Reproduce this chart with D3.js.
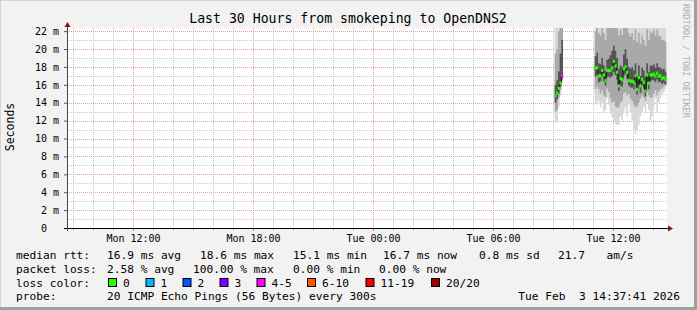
<!DOCTYPE html>
<html>
<head>
<meta charset="utf-8">
<script src="https://d3js.org/d3.v7.min.js"></script>
<style>
  body { margin: 0; background: #f2f2f2; }
  svg text { font-family: "DejaVu Sans Mono", monospace; white-space: pre; }
</style>
</head>
<body>
<svg width="697" height="310"></svg>
<script>
// time window of the graph (30 hours)
var startTime = new Date(2026, 1, 2, 8, 42);
var endTime = new Date(2026, 1, 3, 14, 42);
var stepMinutes = 5;

// first short run of samples
var run1Start = new Date(2026, 1, 3, 9, 5);
var run1Median = [14.8, 15.1, 15.6, 16.2, 17.0];
var run1Loss   = [0, 0, 0, 0, 4];
var run1Min    = [11.8, 11.8, 13.5, 14.8, 16.2];
var run1P10    = [13.0, 13.2, 14.5, 15.4, 16.5];
var run1Q1     = [14.0, 14.4, 15.0, 15.8, 16.7];
var run1Q3     = [16.0, 16.5, 17.5, 19.5, 21.0];
var run1P90    = [19.5, 20.0, 22.0, 23.0, 24.0];
var run1Max    = [24, 24, 24, 24, 24];

// second run
var run2Start = new Date(2026, 1, 3, 11, 5);
var run2Median = [17.9, 17.9, 17.0, 17.0, 17.6, 17.1, 16.5, 17.6, 17.6, 17.6, 17.9, 18.6, 18.1, 17.4, 15.9,
                  16.7, 16.6, 17.8, 18.0, 17.4, 16.5, 16.4, 16.4, 16.3, 17.0, 15.5, 16.8, 15.9, 16.6, 16.3,
                  15.3, 17.1, 16.2, 17.1, 17.1, 17.2, 17.0, 17.3, 17.0, 17.0, 16.7, 16.8, 16.6];
var run2Min = [14.0, 13.8, 14.2, 13.5, 14.0, 13.0, 13.2, 14.5, 13.8, 12.8, 12.4, 12.0, 11.6, 11.5, 11.6,
               12.5, 12.0, 13.0, 13.5, 12.5, 13.8, 13.0, 12.0, 11.0, 10.5, 10.8, 11.5, 12.5, 13.0, 13.5,
               12.8, 14.0, 13.2, 12.0, 12.5, 13.5, 14.5, 13.0, 14.0, 14.5, 15.0, 15.2, 15.5];
var run2P10 = [15.5, 15.8, 15.5, 15.0, 15.4, 14.8, 14.6, 15.6, 15.2, 14.5, 14.0, 14.2, 13.6, 13.4, 13.5,
               14.0, 14.2, 15.0, 15.2, 14.8, 15.0, 14.5, 14.2, 13.8, 13.5, 13.6, 14.0, 14.5, 14.8, 14.6,
               14.2, 15.2, 14.8, 14.5, 14.6, 15.0, 15.4, 14.8, 15.2, 15.5, 15.6, 15.8, 16.0];
var run2Q1 = [16.9, 17.1, 16.3, 16.4, 16.9, 16.4, 15.9, 16.9, 16.9, 16.8, 17.0, 17.4, 17.1, 16.6, 15.3,
              15.9, 15.8, 17.0, 17.2, 16.7, 15.9, 15.7, 15.7, 15.5, 16.2, 14.9, 16.0, 15.1, 15.9, 15.6,
              14.7, 16.4, 15.5, 16.4, 16.5, 16.5, 16.3, 16.6, 16.3, 16.3, 16.1, 16.2, 16.0];
var run2Q3 = [19.2, 19.6, 18.4, 18.3, 19.0, 18.2, 17.6, 18.8, 18.9, 19.3, 19.8, 20.4, 19.8, 19.0, 17.8,
              18.2, 18.0, 19.4, 20.0, 18.9, 18.0, 17.8, 18.0, 17.6, 18.4, 17.0, 18.2, 17.0, 17.9, 17.6,
              16.9, 18.4, 17.4, 18.2, 18.1, 18.3, 17.9, 18.4, 18.0, 17.9, 17.7, 17.8, 17.5];
var run2P90 = [22.0, 23.0, 21.8, 21.5, 22.8, 21.8, 21.0, 23.0, 23.0, 23.5, 23.5, 23.5, 23.5, 23.0, 21.5,
               22.2, 21.6, 23.0, 23.5, 22.8, 21.8, 21.4, 21.8, 21.0, 22.2, 20.8, 21.8, 20.6, 21.5, 21.0,
               20.4, 22.2, 21.0, 22.0, 21.8, 22.2, 21.5, 22.2, 21.5, 21.4, 21.0, 21.0, 20.8];
var run2Max = [23, 24, 24, 24, 24, 24, 24, 24, 24, 24, 24, 24, 24, 24, 24,
               24, 24, 24, 24, 24, 24, 24, 24, 24, 24, 24, 24, 24, 24, 24,
               24, 24, 24, 24, 24, 24, 24, 24, 24, 24, 24, 24, 23];
var run2Loss = run2Median.map(function() { return 0; });

// loss legend
var lossLabels = ["0", "1", "2", "3", "4-5", "6-10", "11-19", "20/20"];
var lossColors = ["#26ff00", "#00b8ff", "#0059ff", "#7e00ff", "#ff00ff", "#ff5500", "#ff0000", "#a00000"];
var lossBoxX = [108, 145.5, 182.5, 219.5, 256.5, 307, 365.5, 431];

var yMax = 22.35;

var svg = d3.select("svg");
var pLeft = 67, pRight = 667, pTop = 28, pBottom = 228;

var x = d3.scaleTime().domain([startTime, endTime]).range([pLeft, pRight]);
var y = d3.scaleLinear().domain([0, yMax]).range([pBottom, pTop]);

// frame
svg.append("rect").attr("width", 697).attr("height", 310).attr("fill", "#f2f2f2");
svg.append("rect").attr("x", 0).attr("y", 0).attr("width", 697).attr("height", 1).attr("fill", "#d4d4d4");
svg.append("rect").attr("x", 0).attr("y", 0).attr("width", 1).attr("height", 310).attr("fill", "#d4d4d4");
svg.append("rect").attr("x", 694).attr("y", 0).attr("width", 3).attr("height", 310).attr("fill", "#a0a0a0");
svg.append("rect").attr("x", 0).attr("y", 307).attr("width", 697).attr("height", 3).attr("fill", "#a0a0a0");

// plot canvas
svg.append("rect").attr("x", pLeft).attr("y", pTop)
  .attr("width", pRight - pLeft).attr("height", pBottom - pTop).attr("fill", "#fff");

svg.append("clipPath").attr("id", "plotclip")
  .append("rect").attr("x", pLeft).attr("y", pTop)
  .attr("width", pRight - pLeft).attr("height", pBottom - pTop);

// grid
var grid = svg.append("g").attr("shape-rendering", "crispEdges");
var hours = x.ticks(d3.timeHour.every(1));
grid.selectAll(".vminor").data(hours).enter().append("line")
  .attr("x1", function(d) { return Math.round(x(d)) + 0.5; })
  .attr("x2", function(d) { return Math.round(x(d)) + 0.5; })
  .attr("y1", pTop).attr("y2", pBottom)
  .attr("stroke", function(d) { return d.getHours() % 6 === 0 ? "#e8a0a0" : "#c8c8c8"; })
  .attr("stroke-dasharray", "1,1");
var ms = d3.range(1, 23);
grid.selectAll(".hminor").data(ms).enter().append("line")
  .attr("x1", pLeft).attr("x2", pRight)
  .attr("y1", function(d) { return Math.round(y(d)) + 0.5; })
  .attr("y2", function(d) { return Math.round(y(d)) + 0.5; })
  .attr("stroke", function(d) { return d % 2 === 0 ? "#e8a0a0" : "#c8c8c8"; })
  .attr("stroke-dasharray", "1,1");

// build rows for each run
function buildRun(start, med, loss, mn, p10, q1, q3, p90, mx) {
  return med.map(function(m, i) {
    return { t: d3.timeMinute.offset(start, i * stepMinutes), med: m, loss: loss[i],
             min: mn[i], p10: p10[i], q1: q1[i], q3: q3[i], p90: p90[i], max: mx[i] };
  });
}
var runs = [
  buildRun(run1Start, run1Median, run1Loss, run1Min, run1P10, run1Q1, run1Q3, run1P90, run1Max),
  buildRun(run2Start, run2Median, run2Loss, run2Min, run2P10, run2Q1, run2Q3, run2P90, run2Max)
];

var bands = [
  { lo: "min", hi: "max", color: "#d8d8d8" },
  { lo: "p10", hi: "p90", color: "#a9a9a9" },
  { lo: "q1", hi: "q3", color: "#555555" }
];

var dataG = svg.append("g").attr("clip-path", "url(#plotclip)");

runs.forEach(function(run) {
  // extend by one step so the last sample is drawn as a full step
  var last = run[run.length - 1];
  var ext = run.concat([Object.assign({}, last, { t: d3.timeMinute.offset(last.t, stepMinutes) })]);
  bands.forEach(function(b) {
    var area = d3.area()
      .curve(d3.curveStepAfter)
      .x(function(d) { return x(d.t); })
      .y0(function(d) { return y(d[b.lo]); })
      .y1(function(d) { return y(d[b.hi]); });
    dataG.append("path").datum(ext).attr("d", area).attr("fill", b.color);
  });
  // median: dark step line with loss-coloured blobs
  var medLine = d3.line()
    .curve(d3.curveStepAfter)
    .x(function(d) { return x(d.t); })
    .y(function(d) { return y(d.med); });
  dataG.append("path").datum(ext).attr("d", medLine)
    .attr("fill", "none").attr("stroke", "#111").attr("stroke-width", 1);
  var stepW = x(d3.timeMinute.offset(run[0].t, stepMinutes)) - x(run[0].t);
  dataG.selectAll(null).data(run).enter().append("rect")
    .attr("x", function(d) { return x(d.t) - 0.3; })
    .attr("y", function(d) { return y(d.med) - 1.6; })
    .attr("width", stepW + 0.6)
    .attr("height", 3.2)
    .attr("fill", function(d) { return lossColors[d.loss]; });
});

// axes
var yAxis = d3.axisLeft(y)
  .tickValues(d3.range(0, 23, 2))
  .tickSize(3).tickPadding(5)
  .tickFormat(function(d) { return d === 0 ? "0  " : d + " m"; });
var yG = svg.append("g").attr("transform", "translate(" + pLeft + ",0)").call(yAxis);
yG.select(".domain").remove();
yG.selectAll("text").attr("font-size", 10).attr("fill", "#000").style("font-family", "DejaVu Sans Mono");
yG.selectAll("line").attr("stroke", "#555");

var xAxis = d3.axisBottom(x)
  .ticks(d3.timeHour.every(6))
  .tickSize(3).tickPadding(3.5)
  .tickFormat(d3.timeFormat("%a %H:%M"));
var xG = svg.append("g").attr("transform", "translate(0," + pBottom + ")").call(xAxis);
xG.select(".domain").remove();
xG.selectAll("text").attr("font-size", 10).attr("fill", "#000").style("font-family", "DejaVu Sans Mono");
xG.selectAll("line").attr("stroke", "#c06060");

svg.selectAll(".hourtick").data(hours).enter().append("line")
  .attr("x1", function(d) { return Math.round(x(d)) + 0.5; })
  .attr("x2", function(d) { return Math.round(x(d)) + 0.5; })
  .attr("y1", pBottom).attr("y2", pBottom + 2)
  .attr("stroke", "#999");

// axis lines with arrows
svg.append("line").attr("x1", pLeft - 3).attr("x2", pRight + 2)
  .attr("y1", pBottom + 0.5).attr("y2", pBottom + 0.5).attr("stroke", "#000");
svg.append("line").attr("x1", pLeft + 0.5).attr("x2", pLeft + 0.5)
  .attr("y1", pBottom + 3).attr("y2", pTop - 2).attr("stroke", "#444");
svg.append("path").attr("d", "M" + (pRight + 1) + "," + (pBottom - 2.5) + "L" + (pRight + 6) + "," + (pBottom + 0.5) + "L" + (pRight + 1) + "," + (pBottom + 3.5) + "Z")
  .attr("fill", "#8b1010");
svg.append("path").attr("d", "M" + (pLeft - 2.5) + "," + (pTop - 1) + "L" + (pLeft + 0.5) + "," + (pTop - 6) + "L" + (pLeft + 3.5) + "," + (pTop - 1) + "Z")
  .attr("fill", "#8b1010");

// title and labels
svg.append("text").attr("x", 348).attr("y", 23).attr("text-anchor", "middle")
  .attr("font-size", 13.2).text("Last 30 Hours from smokeping to OpenDNS2");
svg.append("text").attr("transform", "translate(14,127) rotate(-90)").attr("text-anchor", "middle")
  .attr("font-size", 11.5).text("Seconds");
svg.append("text").attr("transform", "translate(683,4) rotate(90)")
  .attr("font-size", 8.6).attr("fill", "#b0b0b0").text("RRDTOOL / TOBI OETIKER");

// legend
var legendRows = [
  { y: 258.5, items: [[16, "median rtt:"], [107, "16.9 ms avg"], [200, "18.6 ms max"], [293, "15.1 ms min"],
                      [383, "16.7 ms now"], [479, "0.8 ms sd"], [558, "21.7"], [606.5, "am/s"]] },
  { y: 272.5, items: [[16, "packet loss:"], [107, "2.58 % avg"], [193, "100.00 % max"], [293, "0.00 % min"],
                      [379, "0.00 % now"]] },
  { y: 286.5, items: [[16, "loss color:"]] },
  { y: 300, items: [[16, "probe:"], [107, "20 ICMP Echo Pings (56 Bytes) every 300s"]] }
];
legendRows.forEach(function(r) {
  svg.selectAll(null).data(r.items).enter().append("text")
    .attr("x", function(d) { return d[0]; }).attr("y", r.y)
    .attr("font-size", 11.2).text(function(d) { return d[1]; });
});
svg.append("text").attr("x", 680).attr("y", 300).attr("text-anchor", "end")
  .attr("font-size", 11.2).text("Tue Feb  3 14:37:41 2026");

var lossG = svg.append("g");
lossLabels.forEach(function(l, i) {
  lossG.append("rect").attr("x", lossBoxX[i] + 0.5).attr("y", 278.5).attr("width", 8).attr("height", 8)
    .attr("fill", lossColors[i]).attr("stroke", "#000");
  lossG.append("text").attr("x", lossBoxX[i] + 15).attr("y", 286.5)
    .attr("font-size", 11.2).text(l);
});
</script>
</body>
</html>
